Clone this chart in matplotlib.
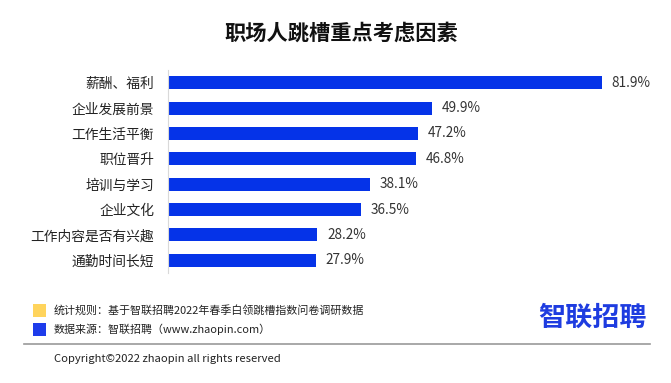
import matplotlib
matplotlib.use("Agg")
import matplotlib.pyplot as plt
from matplotlib.patches import Rectangle

plt.rcParams['font.family'] = ['Noto Sans CJK SC', 'DejaVu Sans']

categories = ["薪酬、福利", "企业发展前景", "工作生活平衡", "职位晋升", "培训与学习", "企业文化", "工作内容是否有兴趣", "通勤时间长短"]
values = [81.9, 49.9, 47.2, 46.8, 38.1, 36.5, 28.2, 27.9]
value_labels = ["81.9%", "49.9%", "47.2%", "46.8%", "38.1%", "36.5%", "28.2%", "27.9%"]

W, H = 671, 383
fig = plt.figure(figsize=(W/100, H/100), dpi=100)
fig.patch.set_facecolor('white')

def fx(px): return px / W
def fy(py): return 1 - py / H

left_px, right_px = 168, 645
top_px, bot_px = 70, 273
ax = fig.add_axes([fx(left_px), fy(bot_px), fx(right_px - left_px), (bot_px - top_px) / H])
ys = list(range(len(categories)))
ax.barh(ys, values, height=0.51, color='#0533E8')
ax.set_xlim(0, (right_px - left_px) / 5.3)
ax.set_ylim(len(categories) - 0.5, -0.5)
ax.set_yticks(ys)
ax.set_yticklabels(categories, fontsize=9.9, color='#222222')
ax.tick_params(axis='y', length=0, pad=10)
ax.set_xticks([])
for s in ['top', 'right', 'bottom']:
    ax.spines[s].set_visible(False)
ax.spines['left'].set_color('#d9d9d9')
ax.spines['left'].set_linewidth(0.8)
for y, v, t in zip(ys, values, value_labels):
    ax.text(v + 1.8, y, t, va='center', ha='left', fontsize=9.8, color='#333333')

fig.text(fx(341), fy(33), "职场人跳槽重点考虑因素", ha='center', va='center',
         fontsize=15.3, fontweight='bold', color='#111111')

# footer
fig.patches.append(Rectangle((fx(33), fy(317)), fx(13), 13/H, transform=fig.transFigure,
                             facecolor='#FFD45C', edgecolor='none'))
fig.patches.append(Rectangle((fx(33), fy(336)), fx(13), 13/H, transform=fig.transFigure,
                             facecolor='#1E3CEB', edgecolor='none'))
fig.text(fx(54), fy(310), "统计规则：基于智联招聘2022年春季白领跳槽指数问卷调研数据", fontsize=7.9,
         va='center', ha='left', color='#222222')
fig.text(fx(54), fy(329), "数据来源：智联招聘（www.zhaopin.com）", fontsize=7.9,
         va='center', ha='left', color='#222222')
fig.text(fx(647), fy(318), "智联招聘", fontsize=19.5, fontweight='bold', va='center', ha='right',
         color='#1E3CE0')
fig.lines.append(plt.Line2D([fx(24), fx(650)], [fy(344), fy(344)], transform=fig.transFigure,
                            color='#999999', linewidth=1.2))
fig.text(fx(54), fy(359), "Copyright©2022 zhaopin all rights reserved", fontsize=8.1,
         va='center', ha='left', color='#222222')

fig.savefig("out.png", dpi=100, facecolor='white')
